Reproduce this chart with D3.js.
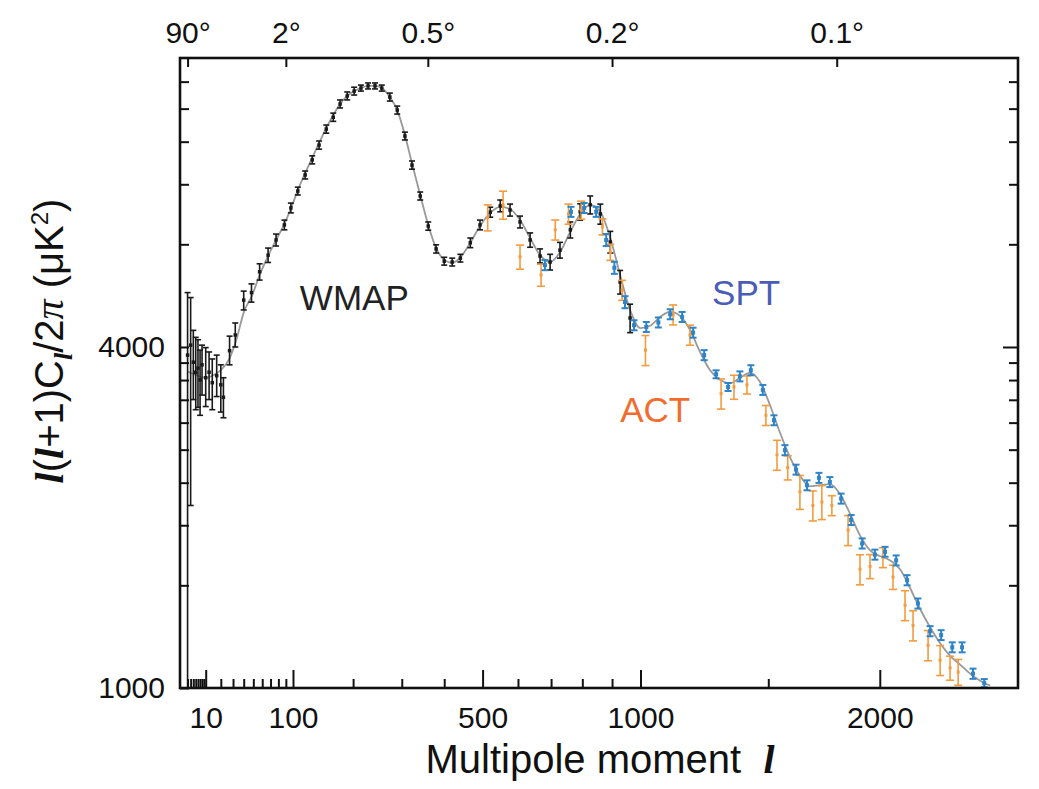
<!DOCTYPE html>
<html><head><meta charset="utf-8">
<script src="https://cdn.jsdelivr.net/npm/d3@7"></script>
<style>
body{margin:0;background:#fff;}
text{font-family:"Liberation Sans",Arial,Helvetica,sans-serif;}
</style></head><body>
<svg id="chart" width="1039" height="789"></svg>
<script>
// ---------- data ----------
const theoryL = [2,5,10,15,20,27,33,40,49,57,67,77,88,97,107,118,129,140,152,164,176,189,202,215,229,243,257,274,290,307,323,342,361,380,400,420,441,467,493,521,549,577,606,636,666,697,728,761,793,826,860,894,928,963,999,1035,1072,1109,1146,1184,1223,1262,1302,1342,1382,1423,1465,1507,1549,1592,1636,1680,1724,1769,1815,1861,1907,1954,2000,2049,2097,2146,2194,2244,2294,2344,2395,2446,2498,2550];
const theoryD = [3620,3570,3530,3570,3640,3820,4120,4600,4950,5360,5790,6180,6600,7020,7570,8110,8630,9170,9740,10270,10740,11100,11320,11460,11560,11560,11460,11050,10480,9470,8440,7420,6570,5980,5700,5630,5760,6110,6540,6900,7070,7010,6700,6230,5810,5650,5880,6390,6870,7130,6930,6230,5360,4650,4320,4360,4520,4620,4540,4290,3920,3640,3500,3450,3530,3600,3470,3160,2830,2560,2370,2270,2280,2290,2200,2030,1860,1750,1710,1680,1620,1500,1380,1280,1200,1140,1100,1060,1030,1010];

const wmapL  = [2,3,4,5,6,7,8,10,12,14,17,20,22,27,32,40,48,57,67,77,88,97,107,118,129,140,152,164,176,189,202,215,229,243,257,274,290,307,323,342,361,380,400,420,441,467,493,521,549,577,606,636,666,697,728,761,793,826,860,894,928,963];
const wmapD  = [3870,4030,3760,3610,3670,3500,3720,3530,3610,3460,3560,3430,3260,3940,4200,4840,4990,5430,5810,6180,6570,7040,7540,8050,8560,9090,9700,10180,10740,11100,11320,11460,11560,11560,11460,11050,10480,9430,8380,7390,6540,5960,5670,5650,5740,6110,6570,6920,7100,6980,6650,6180,5790,5650,5930,6440,6930,7130,6870,6130,5210,4500];
const wmapLo = [900,2100,3230,3100,3130,3030,3290,3140,3230,3100,3270,3070,3000,3720,4000,4650,4800,5250,5640,6030,6440,6900,7420,7920,8420,8940,9540,10010,10570,10920,11140,11320,11420,11420,11320,10870,10310,9280,8240,7270,6430,5860,5580,5560,5650,5990,6440,6780,6930,6810,6490,6000,5630,5470,5740,6230,6700,6870,6590,5860,4960,4240];
const wmapHi = [4990,4890,4280,4160,4120,3950,4030,3990,3920,3810,3870,3720,3530,4180,4410,5020,5170,5610,5980,6330,6700,7180,7660,8180,8700,9240,9860,10350,10920,11280,11500,11600,11700,11700,11600,11230,10650,9580,8520,7510,6650,6060,5760,5740,5830,6230,6700,7060,7270,7150,6810,6360,5960,5830,6120,6650,7160,7390,7150,6400,5460,4760];

const actL   = [514,557,606,669,713,755,796,867,894,935,1018,1120,1184,1306,1358,1411,1490,1537,1583,1636,1693,1733,1778,1852,1907,1954,2015,2063,2121,2160,2234,2294,2344,2385];
const actD   = [6770,7130,5770,5360,6440,6870,6980,6520,5880,5040,3950,4560,4200,3310,3400,3430,3030,2580,2450,2220,2100,2130,2100,1900,1620,1640,1700,1570,1400,1290,1190,1120,1085,1067];
const actErr = [358,406,282,240,262,280,256,212,191,205,241,185,171,202,166,126,123,157,120,153,128,147,85,116,99,80,69,77,85,79,73,68,53,56];

const sptL   = [681,763,806,846,880,908,945,977,1021,1065,1109,1154,1196,1239,1286,1334,1382,1427,1477,1524,1571,1619,1667,1720,1769,1820,1866,1917,1977,2025,2078,2131,2184,2244,2299,2355,2405,2461,2519];
const sptD   = [5580,6930,7040,6930,6180,5520,4800,4370,4340,4420,4570,4520,4240,3870,3580,3400,3550,3640,3360,2970,2630,2430,2280,2350,2310,2160,1980,1800,1720,1740,1680,1550,1410,1260,1240,1180,1180,1060,1020];
const sptErr = [114,141,143,141,151,135,117,89,88,90,93,92,86,79,58,55,72,74,68,60,54,49,46,48,47,44,40,37,35,35,34,32,29,26,25,24,24,22,17];

const xMajorTicks = [10,100,500,1000,2000];
const xMinorTicks = [2,3,4,5,6,7,8,9,20,30,40,50,60,70,80,90,200,300,400,600,700,800,900,1500];
const topTickL = [2,90,360,900,1800];
const topTickLabels = ["90°","2°","0.5°","0.2°","0.1°"];
const yMajorTicks = [1000,4000];
const yMinorTicks = [1518,1938,2304,2635,2941,3227,3497,3754,6072,7750,9216,10541,11764];

const labelText = ["WMAP","SPT","ACT"];
const labelL = [110,1270,928];
const labelD = [4649,4745,2950];
const labelColor = ["#222222","#4b5cb8","#f26d2d"];

// ---------- layout ----------
const m = {left:180,right:1018,top:58,bottom:688};
const svg = d3.select("#chart");
const x = d3.scalePow().exponent(0.6).domain([0.3,2697]).range([m.left,m.right]);
const y = d3.scaleLog().domain([1000,12950]).range([m.bottom,m.top]).clamp(true);

// theory curve
const theory = theoryL.map((l,i)=>({l,d:theoryD[i]}));
svg.append("path").datum(theory)
  .attr("fill","none").attr("stroke","#9a9a9a").attr("stroke-width",1.8)
  .attr("d", d3.line().x(d=>x(d.l)).y(d=>y(d.d)).curve(d3.curveMonotoneX));

function drawSeries(L, D, lo, hi, color, capW, sw, mark){
  const g = svg.append("g");
  const pts = L.map((l,i)=>({l,d:D[i],lo:lo[i],hi:hi[i]}));
  const s = g.selectAll("g").data(pts).join("g");
  s.append("line").attr("x1",d=>x(d.l)).attr("x2",d=>x(d.l))
    .attr("y1",d=>y(d.lo)).attr("y2",d=>y(d.hi)).attr("stroke",color).attr("stroke-width",sw);
  s.append("line").attr("x1",d=>x(d.l)-capW/2).attr("x2",d=>x(d.l)+capW/2)
    .attr("y1",d=>y(d.hi)).attr("y2",d=>y(d.hi)).attr("stroke",color).attr("stroke-width",sw);
  s.append("line").attr("x1",d=>x(d.l)-capW/2).attr("x2",d=>x(d.l)+capW/2)
    .attr("y1",d=>y(d.lo)).attr("y2",d=>y(d.lo)).attr("stroke",color).attr("stroke-width",sw)
    .attr("display",d=>d.lo<=1000?"none":null);
  s.append("rect").attr("x",d=>x(d.l)-mark/2).attr("y",d=>y(d.d)-mark/2)
    .attr("width",mark).attr("height",mark).attr("fill",color);
}
drawSeries(wmapL, wmapD, wmapLo, wmapHi, "#1a1a1a", 6, 1.6, 3.5);
drawSeries(actL, actD, actL.map((_,i)=>actD[i]-actErr[i]), actL.map((_,i)=>actD[i]+actErr[i]), "#f39b3e", 8, 1.6, 3);
drawSeries(sptL, sptD, sptL.map((_,i)=>sptD[i]-sptErr[i]), sptL.map((_,i)=>sptD[i]+sptErr[i]), "#2f84c8", 7, 2, 4);

// ---------- axes ----------
function styleAxis(g, fs){
  g.select(".domain").remove();
  g.selectAll(".tick line").attr("stroke","#111").attr("stroke-width",2);
  g.selectAll(".tick text").attr("fill","#111").style("font-size",fs+"px")
    .style("font-family",'"Liberation Sans",Arial,sans-serif');
}
styleAxis(svg.append("g").attr("transform",`translate(0,${m.bottom})`)
  .call(d3.axisBottom(x).tickValues(xMajorTicks).tickSize(-18).tickPadding(19).tickFormat(d3.format("d"))),30);
styleAxis(svg.append("g").attr("transform",`translate(0,${m.bottom})`)
  .call(d3.axisBottom(x).tickValues(xMinorTicks).tickSize(-9).tickFormat("")),30);
styleAxis(svg.append("g").attr("transform",`translate(0,${m.top})`)
  .call(d3.axisTop(x).tickValues(topTickL).tickSize(-9).tickPadding(15).tickFormat((d,i)=>topTickLabels[i])),30);
styleAxis(svg.append("g").attr("transform",`translate(${m.left},0)`)
  .call(d3.axisLeft(y).tickValues(yMajorTicks).tickSize(-9).tickPadding(15).tickFormat(d3.format("d"))),30);
styleAxis(svg.append("g").attr("transform",`translate(${m.left},0)`)
  .call(d3.axisLeft(y).tickValues(yMinorTicks).tickSize(-9).tickFormat("")),30);
styleAxis(svg.append("g").attr("transform",`translate(${m.right},0)`)
  .call(d3.axisRight(y).tickValues([4000]).tickSize(-15).tickFormat("")),30);
styleAxis(svg.append("g").attr("transform",`translate(${m.right},0)`)
  .call(d3.axisRight(y).tickValues(yMinorTicks).tickSize(-9).tickFormat("")),30);

// frame
svg.append("rect").attr("x",m.left).attr("y",m.top).attr("width",m.right-m.left).attr("height",m.bottom-m.top)
  .attr("fill","none").attr("stroke","#111").attr("stroke-width",2.6);

// ---------- titles ----------
const serifIt = '"Liberation Serif","DejaVu Serif",serif';
const xt = svg.append("text").attr("x",600).attr("y",773).attr("text-anchor","middle")
  .style("font-size","40px").attr("fill","#111");
xt.append("tspan").text("Multipole moment\u00A0\u00A0");
xt.append("tspan").text("l").style("font-family",serifIt).style("font-style","italic").style("font-weight","bold");

const yt = svg.append("text").attr("transform","translate(63,341) rotate(-90)").attr("text-anchor","middle")
  .style("font-size","40px").attr("fill","#111");
yt.append("tspan").text("l").style("font-family",serifIt).style("font-style","italic").style("font-weight","bold");
yt.append("tspan").text("(");
yt.append("tspan").text("l").style("font-family",serifIt).style("font-style","italic").style("font-weight","bold");
yt.append("tspan").text("+1)C");
yt.append("tspan").text("l").attr("dy",9).style("font-size","26px").style("font-family",serifIt).style("font-style","italic").style("font-weight","bold");
yt.append("tspan").text("/2").attr("dy",-9);
yt.append("tspan").text("π").style("font-family",serifIt).style("font-style","italic");
yt.append("tspan").text(" (μK");
yt.append("tspan").text("2").attr("dy",-15).style("font-size","24px");
yt.append("tspan").text(")").attr("dy",15);

// ---------- series labels ----------
labelText.forEach((t,i)=>{
  svg.append("text").attr("x",x(labelL[i])).attr("y",y(labelD[i]))
    .style("font-size","35px").attr("fill",labelColor[i]).text(t);
});
</script></body></html>
